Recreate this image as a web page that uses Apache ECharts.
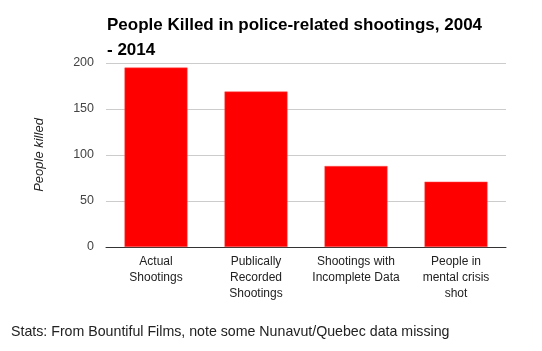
<!DOCTYPE html>
<html>
<head>
<meta charset="utf-8">
<script src="https://cdn.jsdelivr.net/npm/echarts@6/dist/echarts.min.js"></script>
<style>
html, body { margin: 0; padding: 0; background: #fff; }
#chart { width: 542px; height: 351px; }
</style>
</head>
<body>
<div id="chart"></div>
<script>
// categories and values
var categories = ['Actual\nShootings', 'Publically\nRecorded\nShootings', 'Shootings with\nIncomplete Data', 'People in\nmental crisis\nshot'];
var killed = [195, 169, 88, 71];
var yTicks = [0, 50, 100, 150, 200];

var chart = echarts.init(document.getElementById('chart'));
var option = {
  animation: false,
  title: [
    {
      text: 'People Killed in police-related shootings, 2004\n- 2014',
      left: 102,
      top: 8,
      textStyle: { fontFamily: 'Liberation Sans', fontSize: 17, fontWeight: 'bold', color: '#000', lineHeight: 25 }
    },
    {
      text: 'Stats: From Bountiful Films, note some Nunavut/Quebec data missing',
      left: 6,
      top: 320,
      textStyle: { fontFamily: 'Liberation Sans', fontSize: 14.2, fontWeight: 'normal', color: '#222' }
    }
  ],
  grid: { left: 106, right: 36, top: 63, bottom: 104 },
  xAxis: {
    type: 'category',
    data: categories,
    axisTick: { show: false },
    axisLine: { lineStyle: { color: '#333', width: 1 } },
    axisLabel: { fontFamily: 'Liberation Sans', fontSize: 12, color: '#222', lineHeight: 16, margin: 7, interval: 0 }
  },
  yAxis: {
    type: 'value',
    min: yTicks[0],
    max: yTicks[yTicks.length - 1],
    interval: 50,
    name: 'People killed',
    nameLocation: 'middle',
    nameGap: 60,
    nameRotate: 90,
    nameTextStyle: { fontFamily: 'Liberation Sans', fontSize: 13, fontStyle: 'italic', color: '#222' },
    axisLine: { show: false },
    axisTick: { show: false },
    axisLabel: { fontFamily: 'Liberation Sans', fontSize: 12.5, color: '#444', margin: 12 },
    splitLine: { lineStyle: { color: '#ccc', width: 1 } }
  },
  series: [
    {
      type: 'bar',
      data: killed,
      barWidth: '63%',
      itemStyle: { color: '#ff0000', borderColor: '#ff5050', borderWidth: 0.5 }
    }
  ]
};
chart.setOption(option);
</script>
</body>
</html>
